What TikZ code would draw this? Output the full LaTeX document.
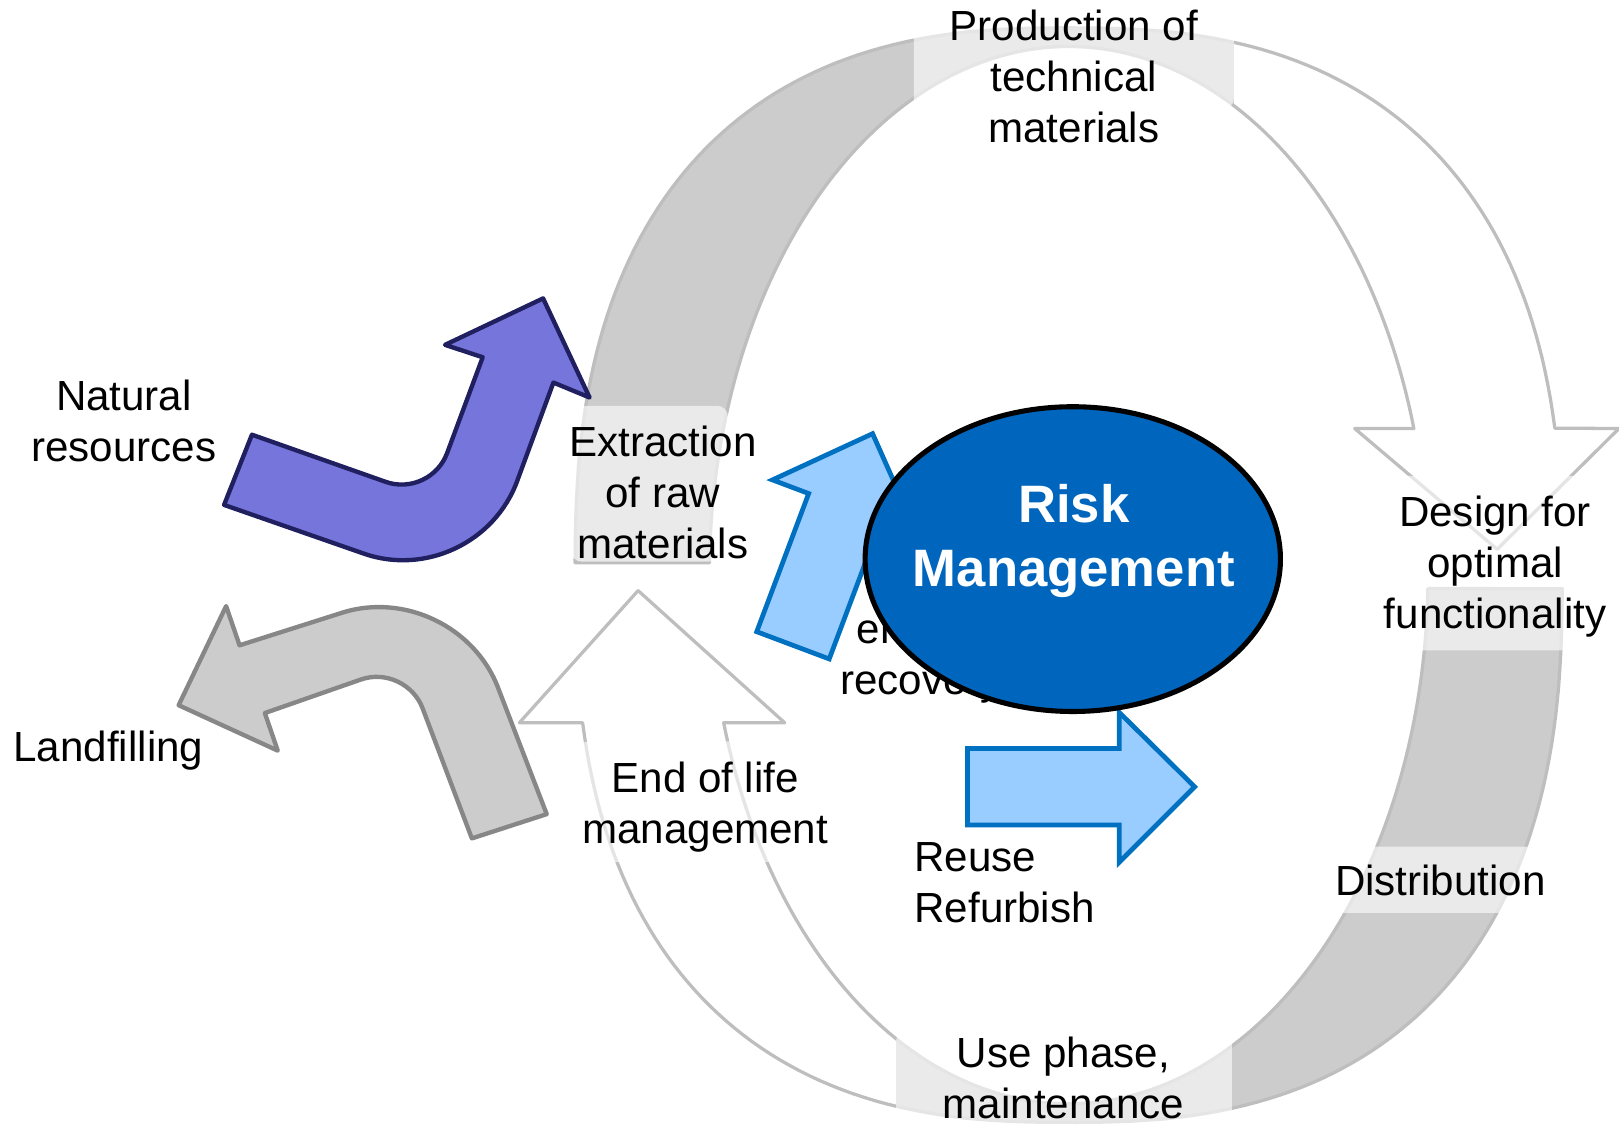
\documentclass[tikz,border=0pt]{standalone}
\usepackage{fontspec}
\setmainfont{Liberation Sans}
\usepackage{tikz}
\usetikzlibrary{shapes.geometric}
\usepackage{color}
\definecolor{ringfill}{RGB}{204,204,204}
\definecolor{ringline}{RGB}{190,190,190}
\definecolor{dumpline}{RGB}{135,135,135}
\definecolor{rawfill}{RGB}{117,117,219}
\definecolor{rawline}{RGB}{32,32,96}
\definecolor{flowfill}{RGB}{153,204,255}
\definecolor{flowline}{RGB}{0,112,192}
\definecolor{corefill}{RGB}{0,101,189}
\tikzstyle{ring} = [draw=ringline, line width=0.9pt, line join=round]
\tikzstyle{pane} = [fill=white, fill opacity=0.6, rounded corners=3pt]
\tikzstyle{stage} = [align=center, inner sep=0pt, font=\fontsize{11.6}{14}\selectfont]
\tikzstyle{intake} = [draw=rawline, fill=rawfill, line width=1.2pt, line join=round]
\tikzstyle{dump} = [draw=dumpline, fill=ringfill, line width=1.2pt, line join=round]
\tikzstyle{backflow} = [draw=flowline, fill=flowfill, line width=1.3pt]
\tikzstyle{core} = [ellipse, draw=black, fill=corefill, line width=1.4pt, minimum width=4.02cm, minimum height=2.95cm, inner sep=0pt]
\tikzset{declare function={
  rimx(\t)=1035+478*sign(cos(\t))*(abs(cos(\t))+0.00001)^0.8;
  rimy(\t)=557+530*sign(sin(\t))*(abs(sin(\t))+0.00001)^0.8;
}}
% upper half of the cycle, ends in the arrow head on the right
\newcommand{\upperloop}{plot[domain=180.5:348.88, samples=120, variable=\t] ({rimx(\t)},{rimy(\t)})
  -- (1568,415) -- (1450,532) -- (1312,415)
  -- plot[domain=343.9:181.34, samples=120, variable=\t] ({1035+348*cos(\t)},{557+512*sin(\t)}) -- cycle}
% lower half of the cycle, ends in the arrow head on the left
\newcommand{\lowerloop}{plot[domain=0.56:168.8, samples=120, variable=\t] ({rimx(\t)},{rimy(\t)})
  -- (503,700) -- (618,572) -- (760,700)
  -- plot[domain=163.78:1.46, samples=120, variable=\t] ({1035+348*cos(\t)},{557+512*sin(\t)}) -- cycle}

\begin{document}
\begin{tikzpicture}[x=0.01cm, y=-0.01cm]
        \useasboundingbox (0,0) rectangle (1568,1091);
        % Cycle
        \begin{scope}
            \clip (0,-20) rectangle (1195,1120);
            \fill [ringfill] \upperloop;
        \end{scope}
        \draw [ring] \upperloop;
        \begin{scope}
            \clip (868,-20) rectangle (1600,1120);
            \fill [ringfill] \lowerloop;
        \end{scope}
        \draw [ring] \lowerloop;

        % Label panes
        \fill [pane] (553,393) rectangle (705,544);
        \fill [pane] (885,-10) rectangle (1195,106);
        \fill [pane] (1335,461) rectangle (1560,630);
        \fill [pane] (1290,820) rectangle (1500,884);
        \fill [pane] (868,997) rectangle (1193,1110);
        \fill [pane] (560,718) rectangle (805,835);

        % In and out
        \draw [intake] (244,421) -- (373.6,466.7) .. controls (397.5,475.1) and (424.2,462.6) .. (433,438.9)
            -- (467.5,346) -- (431,334) -- (526,289) -- (571,385) -- (536,370.5)
            -- (500.8,466.1) .. controls (478.9,525.4) and (412.1,557) .. (352.4,536.2) -- (217,489) -- cycle;
        \draw [dump] (457,812) -- (409.3,686) .. controls (400.3,662.4) and (373.5,649.8) .. (349.6,658.1)
            -- (256.5,690.6) -- (269,727) -- (173,683) -- (219,587) -- (232,625)
            -- (331.4,593.4) .. controls (391.7,574.3) and (459.6,606.9) .. (482.3,665.9) -- (529.5,788.5) -- cycle;

        % Inner loops
        \draw [backflow] (732.9,611.8) -- (783.2,478) -- (748.1,464.8) -- (845.1,420) -- (888.5,517.6) -- (853.4,504.4) -- (803.1,638.2) -- cycle;
        \draw [backflow] (937,725) -- (1084,725) -- (1084,690) -- (1157,762) -- (1084,835) -- (1084,799) -- (937,799) -- cycle;
        \node (recover) [stage] at (892,641) {energy\\recovery};

        % Centre
        \node (risk) [core] at (1039,541.5) {};
        \node (riskText) [align=center, inner sep=0pt, text=white, font=\bfseries\fontsize{14.5}{17.6}\selectfont] at (1040,524) {Risk\\Management};

        % Labels
        \node (natural) [stage] at (120,408) {Natural\\resources};
        \node (landfill) [stage] at (105,727) {Landfilling};
        \node (extract) [stage] at (642,477) {Extraction\\of raw\\materials};
        \node (produce) [stage] at (1040,74) {Production of\\technical\\materials};
        \node (design) [stage] at (1448,549) {Design for\\optimal\\functionality};
        \node (distrib) [stage] at (1395,853) {Distribution};
        \node (usephase) [stage] at (1030,1044) {Use phase,\\maintenance};
        \node (endlife) [stage] at (683,782) {End of life\\management};
        \node (reuse) [stage, align=left, anchor=west] at (885,855) {Reuse\\Refurbish};
\end{tikzpicture}
\end{document}
